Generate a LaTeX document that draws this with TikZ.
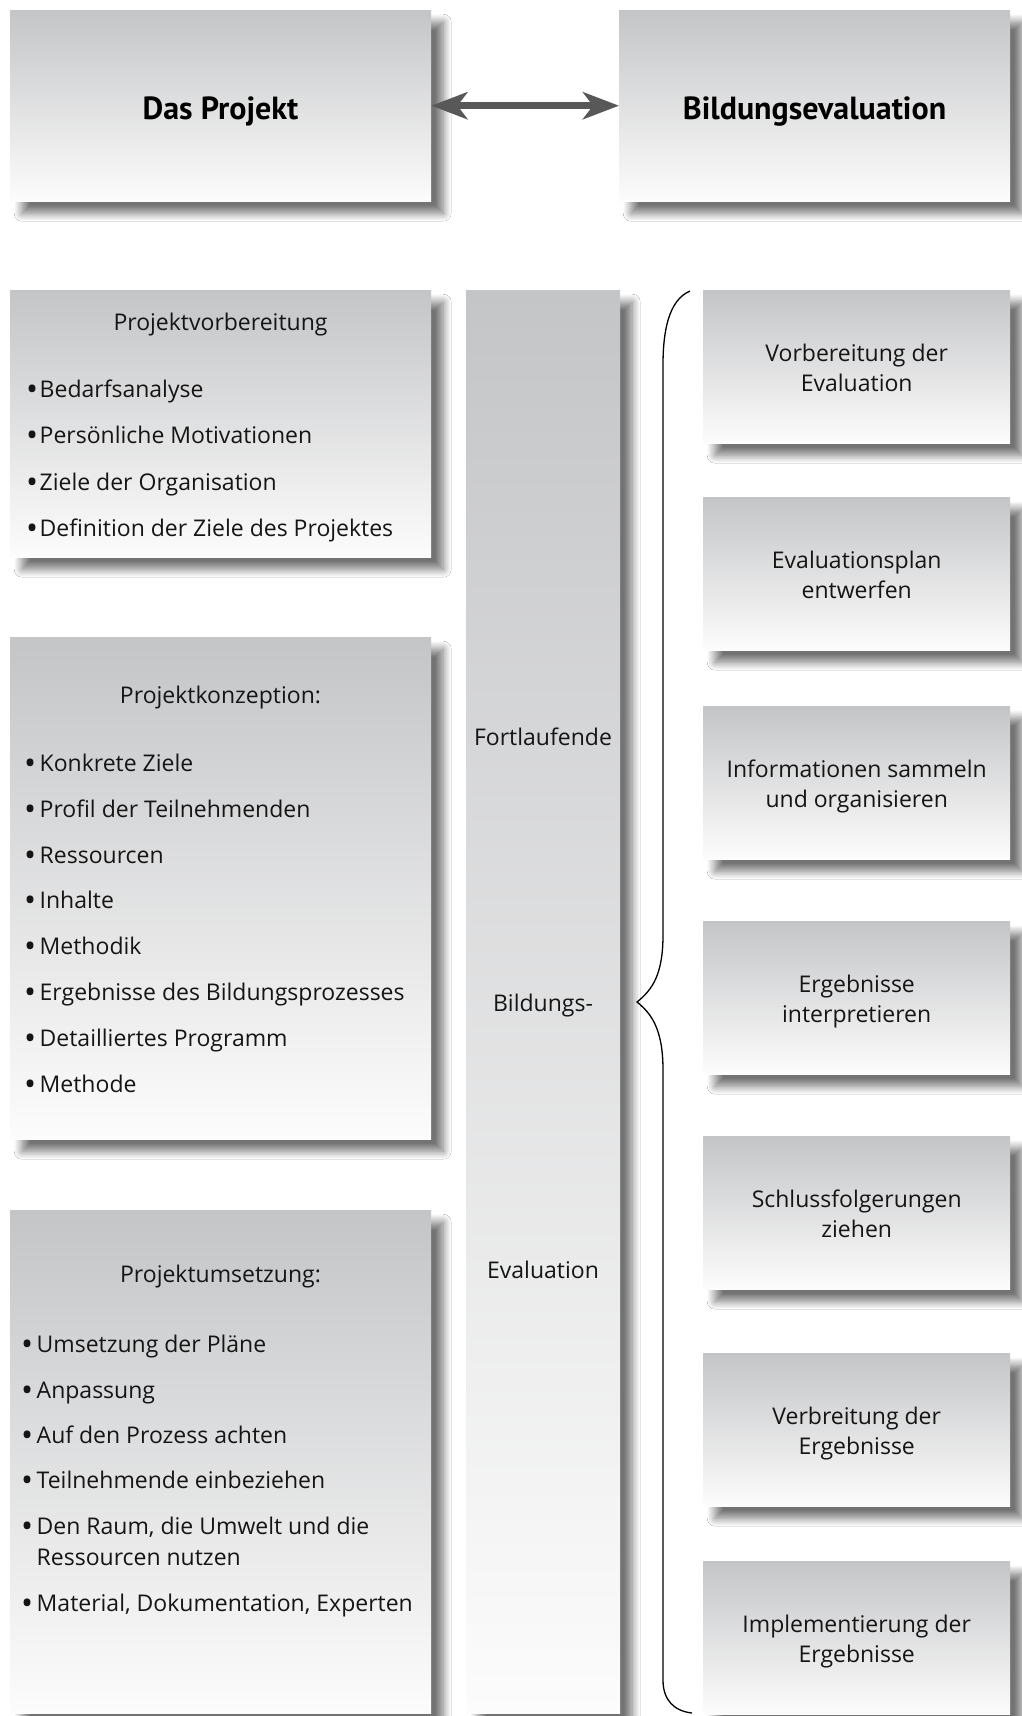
\documentclass[tikz,border=0pt]{standalone}
\usepackage{fontspec}
\setmainfont{Open Sans}
\newfontfamily\titlefont{PT Sans}
\usetikzlibrary{arrows.meta,shadows.blur}
\definecolor{gtop}{HTML}{C4C5C7}
\definecolor{gbot}{HTML}{FCFCFC}
\definecolor{arrowgray}{HTML}{585858}
\definecolor{ink}{HTML}{151515}
\newcommand{\bul}[1]{\makebox[#1][l]{\raisebox{-3pt}{\fontsize{32}{32}\selectfont •}}}
\begin{document}
\begin{tikzpicture}[x=1pt,y=-1pt,
  panel/.style={draw=none, inner sep=0pt, anchor=north west, top color=gtop, bottom color=gbot,
     blur shadow={shadow xshift=12pt, shadow yshift=-12pt, shadow blur radius=8pt, shadow opacity=55, shadow blur steps=14}},
  body/.style={font=\fontsize{23}{30}\selectfont, inner sep=0pt, text=ink},
  ttl/.style={font=\titlefont\bfseries\fontsize{32}{38}\selectfont, inner sep=0pt, text=black, anchor=base},
  hdr/.style={body, anchor=base},
  itm/.style={body, anchor=base west},
  rt/.style={body, anchor=base},
  bracestyle/.style={line width=1.3pt, black},
  dblarrow/.style={arrowgray, line width=7.5pt,
     {Stealth[length=36pt,width=27pt,inset=10pt]}-{Stealth[length=36pt,width=27pt,inset=10pt]}}
]
\useasboundingbox (0,0) rectangle (1022,1716);
\fill[white] (0,0) rectangle (1022,1716);

% top boxes
\node[panel, minimum width=421pt, minimum height=191pt] (p1) at (10,10) {};
\node[panel, minimum width=391pt, minimum height=191pt] (p2) at (619,10) {};
\node[ttl] (t1) at (220.5,119) {Das Projekt};
\node[ttl] (t2) at (814.5,119) {Bildungsevaluation};
\draw[dblarrow] (p1.east) -- (p2.west);

% left column
\node[panel, minimum width=421pt, minimum height=267pt] (l1) at (10,290) {};
\node[panel, minimum width=421pt, minimum height=502pt] (l2) at (10,637) {};
\node[panel, minimum width=421pt, minimum height=503pt] (l3) at (10,1210) {};

% middle column
\node[panel, minimum width=154pt, minimum height=1423pt] (mcol) at (466,290) {};

% right column
\foreach \yy/\nm in {290/r1,497/r2,706/r3,921/r4,1136/r5,1353/r6,1561/r7}{
  \node[panel, minimum width=307pt, minimum height=153pt] (\nm) at (703,\yy) {};
}

% left texts
\node[hdr] (h1) at (220.5,330) {Projektvorbereitung};
\node[itm] (a1) at (26,397) {\bul{13.5pt}Bedarfsanalyse};
\node[itm] (a2) at (26,443.5) {\bul{13.5pt}Persönliche Motivationen};
\node[itm] (a3) at (26,490) {\bul{13.5pt}Ziele der Organisation};
\node[itm] (a4) at (26,536) {\bul{13.5pt}Definition der Ziele des Projektes};

\node[hdr] (h2) at (220.5,703) {Projektkonzeption:};
\node[itm] (b1) at (24,771.5) {\bul{15.5pt}Konkrete Ziele};
\node[itm] (b2) at (24,817) {\bul{15.5pt}Profil der Teilnehmenden};
\node[itm] (b3) at (24,863) {\bul{15.5pt}Ressourcen};
\node[itm] (b4) at (24,908.5) {\bul{15.5pt}Inhalte};
\node[itm] (b5) at (24,954) {\bul{15.5pt}Methodik};
\node[itm] (b6) at (24,1000) {\bul{15.5pt}Ergebnisse des Bildungsprozesses};
\node[itm] (b7) at (24,1046) {\bul{15.5pt}Detailliertes Programm};
\node[itm] (b8) at (24,1092) {\bul{15.5pt}Methode};

\node[hdr] (h3) at (220.5,1282) {Projektumsetzung:};
\node[itm] (c1) at (21,1352) {\bul{15.5pt}Umsetzung der Pläne};
\node[itm] (c2) at (21,1398) {\bul{15.5pt}Anpassung};
\node[itm] (c3) at (21,1443) {\bul{15.5pt}Auf den Prozess achten};
\node[itm] (c4) at (21,1488) {\bul{15.5pt}Teilnehmende einbeziehen};
\node[itm] (c5) at (21,1534) {\bul{15.5pt}Den Raum, die Umwelt und die};
\node[itm] (c5b) at (36.5,1565) {Ressourcen nutzen};
\node[itm] (c6) at (21,1611) {\bul{15.5pt}Material, Dokumentation, Experten};

% middle texts
\node[hdr] (m1) at (543,745) {Fortlaufende};
\node[hdr] (m2) at (543,1011) {Bildungs-};
\node[hdr] (m3) at (543,1278) {Evaluation};

% right texts
\foreach \nm/\la/\lb in {r1/Vorbereitung der/Evaluation,
                          r2/Evaluationsplan/entwerfen,
                          r3/Informationen sammeln/und organisieren,
                          r4/Ergebnisse/interpretieren,
                          r5/Schlussfolgerungen/ziehen,
                          r6/Verbreitung der/Ergebnisse,
                          r7/Implementierung der/Ergebnisse}{
  \node[rt] (\nm a) at ([yshift=5pt]\nm.center) {\la};
  \node[rt] (\nm b) at ([yshift=-25pt]\nm.center) {\lb};
}

% brace
\coordinate (bt) at (690,291);
\coordinate (btip) at (637,1002);
\coordinate (bb) at (692,1713);
\draw[bracestyle] (bt) .. controls (669,300) and (663,330) .. (663,365)
  -- (663,935) .. controls (663,975) and (652,990) .. (btip)
  .. controls (652,1014) and (663,1030) .. (663,1070)
  -- (663,1680) .. controls (663,1700) and (674,1711) .. (bb);
\end{tikzpicture}
\end{document}
